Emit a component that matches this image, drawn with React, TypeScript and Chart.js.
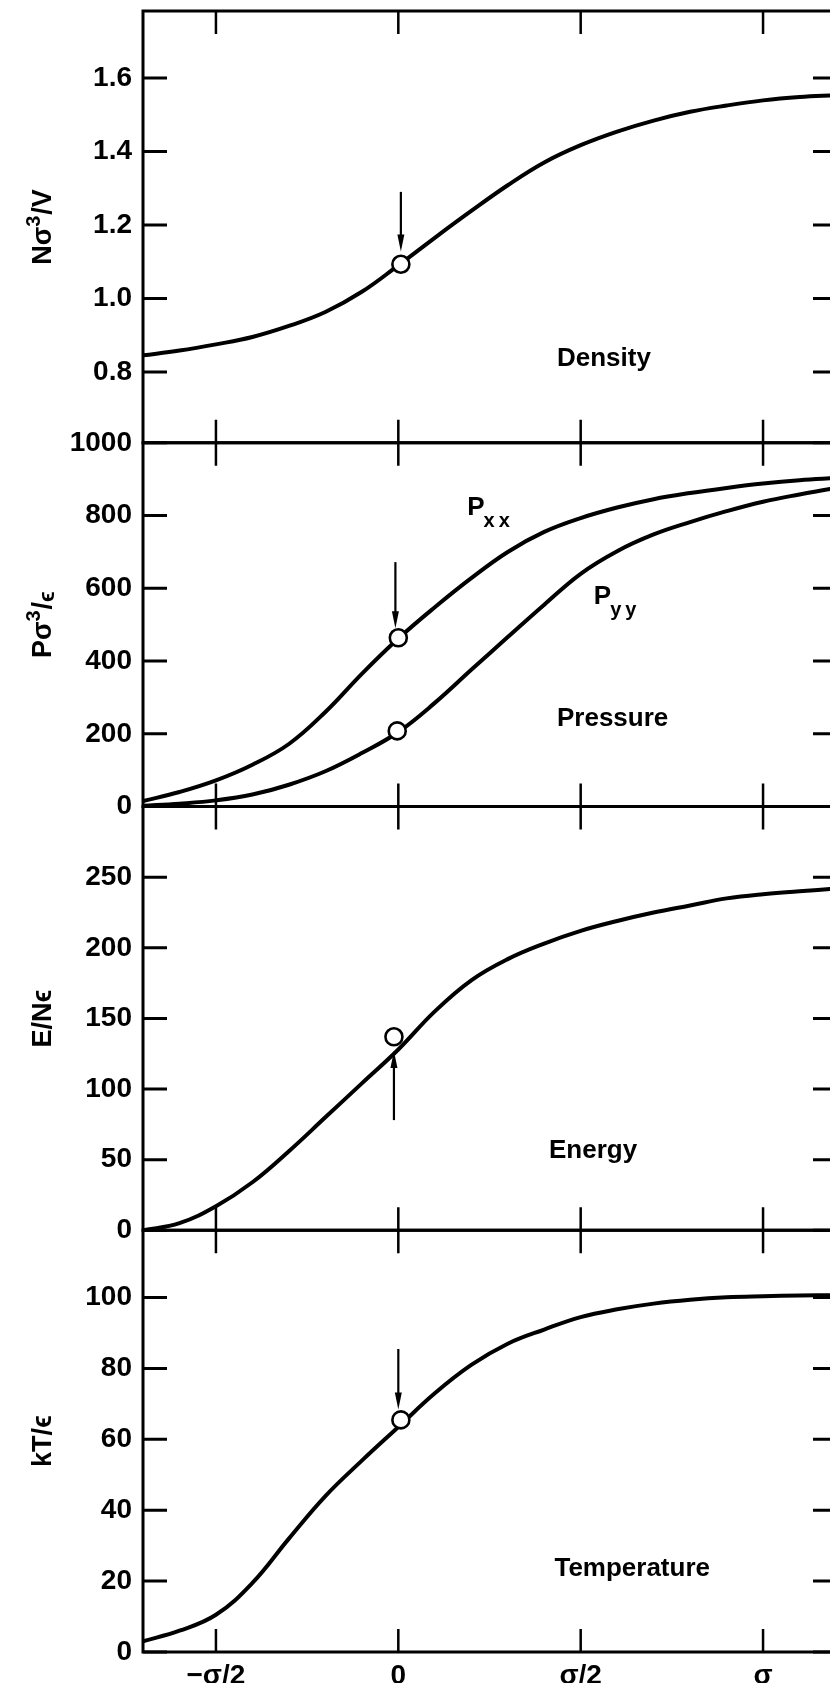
import { useEffect, useRef } from 'react';
import { Chart, registerables } from 'chart.js';

Chart.register(...registerables);

// ---- data ----
const xPositions = [-0.7, -0.6, -0.5, -0.4, -0.3, -0.2, -0.1, 0, 0.1, 0.2, 0.3, 0.4, 0.5, 0.6, 0.7, 0.8, 0.9, 1.0, 1.1, 1.2];
const density = [0.845, 0.858, 0.875, 0.895, 0.925, 0.963, 1.018, 1.09, 1.165, 1.238, 1.308, 1.37, 1.417, 1.454, 1.484, 1.508, 1.525, 1.539, 1.548, 1.553];
const pressureXX = [15, 40, 72, 115, 172, 260, 365, 462, 548, 628, 700, 755, 793, 822, 845, 862, 876, 888, 897, 903];
const pressureYY = [2, 8, 17, 33, 60, 97, 147, 205, 285, 376, 466, 555, 640, 702, 748, 782, 812, 838, 858, 876];
const energy = [0, 5, 17, 34, 56, 80, 104, 128, 155, 177, 192, 203, 212, 219, 225, 230, 235, 238, 240, 242];
const temperature = [3, 6, 10.5, 19.5, 32, 44, 54, 63.5, 73, 81, 87, 91, 94.5, 96.7, 98.3, 99.4, 100.1, 100.4, 100.6, 100.7];

const xTickValues = [-0.5, 0, 0.5, 1];
const xTickLabels = ['\u2212\u03c3/2', '0', '\u03c3/2', '\u03c3'];
const densityTicks = [0.8, 1.0, 1.2, 1.4, 1.6];
const pressureTicks = [0, 200, 400, 600, 800, 1000];
const energyTicks = [0, 50, 100, 150, 200, 250];
const temperatureTicks = [0, 20, 40, 60, 80, 100];

// axis titles as pieces: [text, kind] where kind: 'n' normal, 'sup' superscript, 'low' lowered small
const densityTitle: [string, string][] = [['N\u03c3', 'n'], ['3', 'sup'], ['/V', 'n']];
const pressureTitle: [string, string][] = [['P\u03c3', 'n'], ['3', 'sup'], ['/', 'n'], ['\u03f5', 'low']];
const energyTitle: [string, string][] = [['E/N', 'n'], ['\u03f5', 'n']];
const temperatureTitle: [string, string][] = [['kT/', 'n'], ['\u03f5', 'n']];

// open-circle markers: [x, value]
const densityMarker = [0.007, 1.093];
const pressureXXMarker = [0, 464];
const pressureYYMarker = [-0.003, 208];
const energyMarker = [-0.012, 137];
const temperatureMarker = [0.007, 65.5];

// arrows: [x, from value, to value (tip)]
const densityArrow = [0.007, 1.29, 1.128];
const pressureArrow = [-0.008, 672, 490];
const energyArrow = [-0.012, 78, 127];
const temperatureArrow = [0, 85.5, 68.4];

const FONT = '"Liberation Sans", Arial, Helvetica, sans-serif';

const panels = [
  { id: 'yDensity', title: densityTitle, min: 0.607, max: 1.782, ticks: densityTicks, digits: 1, weightPx: 432, order: 4 },
  { id: 'yPressure', title: pressureTitle, min: 0, max: 1000, ticks: pressureTicks, digits: 0, weightPx: 364, order: 3 },
  { id: 'yEnergy', title: energyTitle, min: 0, max: 300, ticks: energyTicks, digits: 0, weightPx: 424, order: 2 },
  { id: 'yTemperature', title: temperatureTitle, min: 0, max: 119, ticks: temperatureTicks, digits: 0, weightPx: 422, order: 1 },
];

const panelLabels = [
  { text: 'Density', axis: 'yDensity', x: 0.435, y: 0.816 },
  { text: 'Pressure', axis: 'yPressure', x: 0.435, y: 222 },
  { text: 'Energy', axis: 'yEnergy', x: 0.413, y: 51 },
  { text: 'Temperature', axis: 'yTemperature', x: 0.428, y: 21.5 },
];
const subscriptLabels = [
  { main: 'P', sub: 'xx', axis: 'yPressure', x: 0.189, y: 801 },
  { main: 'P', sub: 'yy', axis: 'yPressure', x: 0.536, y: 558 },
];
const arrows = [
  { axis: 'yDensity', a: densityArrow },
  { axis: 'yPressure', a: pressureArrow },
  { axis: 'yEnergy', a: energyArrow },
  { axis: 'yTemperature', a: temperatureArrow },
];

function toPoints(values: number[]) {
  return xPositions.map((x, i) => ({ x, y: values[i] }));
}

function fontFor(kind: string) {
  if (kind === 'sup') return `bold 20px ${FONT}`;
  if (kind === 'low') return `bold 22px ${FONT}`;
  return `bold 27px ${FONT}`;
}
function shiftFor(kind: string) {
  if (kind === 'sup') return -11;
  if (kind === 'low') return 3;
  return 0;
}

const framePlugin = {
  id: 'framePlugin',
  afterDatasetsDraw(chart: any) {
    const ctx = chart.ctx as CanvasRenderingContext2D;
    const { left, right } = chart.chartArea;
    const xs = chart.scales.x;
    ctx.save();
    ctx.strokeStyle = '#000';
    ctx.fillStyle = '#000';
    ctx.lineCap = 'butt';
    panels.forEach((p) => {
      const s = chart.scales[p.id];
      const top = s.top;
      const bottom = s.bottom;
      ctx.lineWidth = 3;
      ctx.beginPath();
      ctx.moveTo(left - 1.5, top);
      ctx.lineTo(right, top);
      ctx.moveTo(left - 1.5, bottom);
      ctx.lineTo(right, bottom);
      ctx.moveTo(left, top);
      ctx.lineTo(left, bottom);
      ctx.moveTo(right, top);
      ctx.lineTo(right, bottom);
      ctx.stroke();
      ctx.lineWidth = 3;
      ctx.beginPath();
      p.ticks.forEach((v) => {
        const y = s.getPixelForValue(v);
        ctx.moveTo(left, y);
        ctx.lineTo(left + 24, y);
        ctx.moveTo(right, y);
        ctx.lineTo(right - 23, y);
      });
      ctx.stroke();
      ctx.lineWidth = 2.5;
      ctx.beginPath();
      xTickValues.forEach((v) => {
        const x = xs.getPixelForValue(v);
        ctx.moveTo(x, top);
        ctx.lineTo(x, top + 23);
        ctx.moveTo(x, bottom);
        ctx.lineTo(x, bottom - 23);
      });
      ctx.stroke();

      // rotated axis title with superscripts
      ctx.save();
      ctx.translate(51, (top + bottom) / 2);
      ctx.rotate(-Math.PI / 2);
      ctx.textBaseline = 'alphabetic';
      ctx.textAlign = 'left';
      let total = 0;
      p.title.forEach(([t, k]) => {
        ctx.font = fontFor(k);
        total += ctx.measureText(t).width + (k === 'sup' ? 1 : 0);
      });
      let cx = -total / 2;
      p.title.forEach(([t, k]) => {
        ctx.font = fontFor(k);
        ctx.fillText(t, cx, shiftFor(k));
        cx += ctx.measureText(t).width + (k === 'sup' ? 1 : 0);
      });
      ctx.restore();
    });

    // arrows
    arrows.forEach(({ axis, a }) => {
      const s = chart.scales[axis];
      const x = xs.getPixelForValue(a[0]);
      const y1 = s.getPixelForValue(a[1]);
      const y2 = s.getPixelForValue(a[2]);
      const dir = Math.sign(y2 - y1);
      ctx.lineWidth = 2.2;
      ctx.beginPath();
      ctx.moveTo(x, y1);
      ctx.lineTo(x, y2 - dir * 10);
      ctx.stroke();
      ctx.beginPath();
      ctx.moveTo(x, y2);
      ctx.lineTo(x - 3.5, y2 - dir * 17);
      ctx.lineTo(x + 3.5, y2 - dir * 17);
      ctx.closePath();
      ctx.fill();
    });

    // labels
    ctx.textBaseline = 'alphabetic';
    ctx.textAlign = 'left';
    ctx.font = `bold 26px ${FONT}`;
    panelLabels.forEach((l) => {
      const s = chart.scales[l.axis];
      ctx.fillText(l.text, xs.getPixelForValue(l.x), s.getPixelForValue(l.y));
    });
    subscriptLabels.forEach((l) => {
      const s = chart.scales[l.axis];
      const x = xs.getPixelForValue(l.x);
      const y = s.getPixelForValue(l.y);
      ctx.font = `bold 26px ${FONT}`;
      ctx.fillText(l.main, x, y);
      const w = ctx.measureText(l.main).width;
      ctx.font = `bold 20px ${FONT}`;
      ctx.fillText(l.sub.split('').join('\u2009'), x + w - 1, y + 12);
    });
    ctx.restore();
  },
};

export default function App() {
  const ref = useRef<HTMLCanvasElement | null>(null);

  useEffect(() => {
    document.body.style.margin = '0';
    document.documentElement.style.overflow = 'hidden';
    const canvas = ref.current;
    if (!canvas) return;

    const scales: any = {
      x: {
        type: 'linear',
        position: 'bottom',
        min: -0.7,
        max: 1.2,
        grid: { display: false, drawTicks: false },
        border: { display: false },
        afterBuildTicks: (s: any) => {
          s.ticks = xTickValues.map((v) => ({ value: v }));
        },
        afterFit: (s: any) => {
          s.height = 31;
          s.paddingLeft = 0;
          s.paddingRight = 0;
        },
        ticks: {
          padding: 7,
          color: '#000',
          font: { family: FONT, size: 28, weight: 'bold' },
          maxRotation: 0,
          autoSkip: false,
          callback: (_v: any, i: number) => xTickLabels[i],
        },
      },
    };
    panels.forEach((p) => {
      scales[p.id] = {
        type: 'linear',
        position: 'left',
        stack: 'panels',
        stackWeight: p.weightPx,
        weight: p.order,
        min: p.min,
        max: p.max,
        grid: { display: false, drawTicks: false },
        border: { display: false },
        afterBuildTicks: (s: any) => {
          s.ticks = p.ticks.map((v) => ({ value: v }));
        },
        afterFit: (s: any) => {
          s.width = 143;
          s.paddingTop = 0;
          s.paddingBottom = 0;
        },
        ticks: {
          padding: 11,
          color: '#000',
          font: { family: FONT, size: 28, weight: 'bold' },
          autoSkip: false,
          callback: (v: any) => Number(v).toFixed(p.digits),
        },
        title: { display: false },
      };
    });

    const lineStyle = {
      borderColor: '#000',
      borderWidth: 4,
      pointRadius: 0,
      fill: false,
      tension: 0.4,
      order: 1,
    };
    const markerStyle = {
      showLine: false,
      pointRadius: 8.5,
      pointBorderWidth: 2.6,
      pointBackgroundColor: '#fff',
      pointBorderColor: '#000',
      order: 0,
    };

    const chart = new Chart(canvas, {
      type: 'line',
      data: {
        datasets: [
          { ...markerStyle, label: 'density marker', yAxisID: 'yDensity', data: [{ x: densityMarker[0], y: densityMarker[1] }] },
          { ...markerStyle, label: 'Pxx marker', yAxisID: 'yPressure', data: [{ x: pressureXXMarker[0], y: pressureXXMarker[1] }] },
          { ...markerStyle, label: 'Pyy marker', yAxisID: 'yPressure', data: [{ x: pressureYYMarker[0], y: pressureYYMarker[1] }] },
          { ...markerStyle, label: 'energy marker', yAxisID: 'yEnergy', data: [{ x: energyMarker[0], y: energyMarker[1] }] },
          { ...markerStyle, label: 'temperature marker', yAxisID: 'yTemperature', data: [{ x: temperatureMarker[0], y: temperatureMarker[1] }] },
          { ...lineStyle, label: 'Density', yAxisID: 'yDensity', data: toPoints(density) },
          { ...lineStyle, label: 'Pxx', yAxisID: 'yPressure', data: toPoints(pressureXX) },
          { ...lineStyle, label: 'Pyy', yAxisID: 'yPressure', data: toPoints(pressureYY) },
          { ...lineStyle, label: 'Energy', yAxisID: 'yEnergy', data: toPoints(energy) },
          { ...lineStyle, label: 'Temperature', yAxisID: 'yTemperature', data: toPoints(temperature) },
        ] as any,
      },
      options: {
        animation: false,
        responsive: false,
        maintainAspectRatio: false,
        devicePixelRatio: 1,
        layout: { padding: { top: 10, right: 14, left: 0, bottom: 0 } },
        plugins: { legend: { display: false }, tooltip: { enabled: false } },
        scales,
      } as any,
      plugins: [framePlugin],
    });
    return () => chart.destroy();
  }, []);

  return (
    <div style={{ width: 830, height: 1683, overflow: 'hidden', position: 'relative', background: '#fff' }}>
      <canvas ref={ref} width={850} height={1683} style={{ display: 'block', width: 850, height: 1683 }} />
    </div>
  );
}
